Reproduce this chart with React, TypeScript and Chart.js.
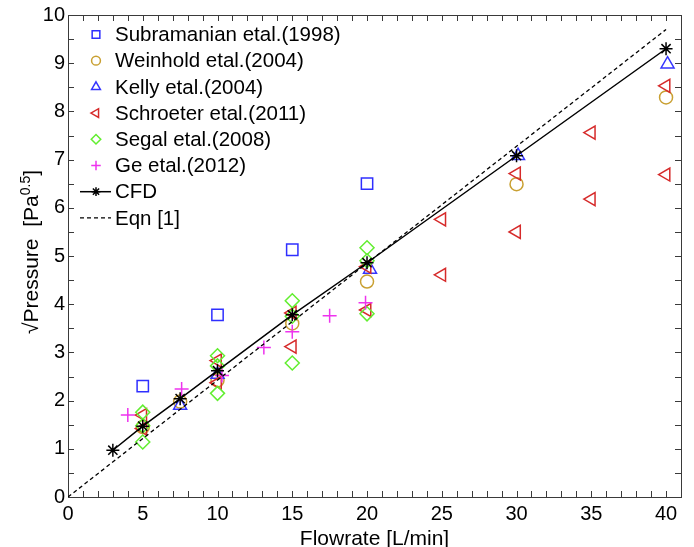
import React, { useEffect, useRef } from 'react';
import { Chart, registerables } from 'chart.js';
import { drawPoint } from 'chart.js/helpers';

Chart.register(...registerables);

const FONT = '"Liberation Sans", Arial, sans-serif';

const xMin = 0;
const xMax = 41;
const yMin = 0;
const yMax = 10;
const xTickValues = [0, 5, 10, 15, 20, 25, 30, 35, 40];
const yTickValues = [0, 1, 2, 3, 4, 5, 6, 7, 8, 9, 10];
const xMinorStep = 1;
const yMinorStep = 0.5;

const xTitle = 'Flowrate [L/min]';
const yTitleMain = '\u221APressure  [Pa';
const yTitleSup = '0.5';
const yTitleEnd = ']';

const subramanianX = [5, 10, 15, 20];
const subramanianY = [2.3, 3.78, 5.13, 6.5];

const weinholdX = [5, 7.5, 10, 15, 20, 30, 40];
const weinholdY = [1.45, 1.98, 2.42, 3.6, 4.47, 6.49, 8.29];

const kellyX = [7.5, 10, 20.2, 30.1, 40.1];
const kellyY = [1.9, 2.54, 4.72, 7.08, 8.98];

const schroeterX = [5, 5, 10, 10, 15, 15, 20, 20, 25, 25, 30, 30, 35, 35, 40, 40];
const schroeterY = [1.7, 1.42, 2.83, 2.37, 3.12, 3.82, 3.88, 4.78, 5.76, 4.61, 6.71, 5.5, 7.56, 6.18, 8.53, 6.69];

const segalX = [5, 5, 5, 10, 10, 10, 15, 15, 15, 20, 20, 20];
const segalY = [1.76, 1.48, 1.14, 2.93, 2.72, 2.15, 4.07, 3.75, 2.78, 5.17, 4.9, 3.8];

const geX = [4, 7.6, 10.3, 13.1, 15, 17.5, 19.9];
const geY = [1.7, 2.24, 2.52, 3.1, 3.43, 3.76, 4.03];

const cfdX = [3, 5, 7.5, 10, 15, 20, 30, 40];
const cfdY = [0.97, 1.47, 2.04, 2.62, 3.78, 4.86, 7.08, 9.3];

const eqnX = [0, 40];
const eqnY = [0, 9.7];

const labels = [
  'Subramanian etal.(1998)',
  'Weinhold etal.(2004)',
  'Kelly etal.(2004)',
  'Schroeter etal.(2011)',
  'Segal etal.(2008)',
  'Ge etal.(2012)',
  'CFD',
  'Eqn [1]',
];

const toPts = (xs: number[], ys: number[]) => xs.map((x, i) => ({ x, y: ys[i] }));

const framePlugin = {
  id: 'frame',
  beforeDatasetsDraw(chart: any) {
    const { ctx, chartArea, scales } = chart;
    const { left, right, top, bottom } = chartArea;
    const xs = scales.x;
    const ys = scales.y;
    const tl = 6;
    ctx.save();
    ctx.strokeStyle = '#3a3a3a';
    ctx.lineWidth = 1;
    ctx.beginPath();
    for (let v = xMin; v <= xTickValues[xTickValues.length - 1] + 1e-9; v += xMinorStep) {
      const px = Math.round(xs.getPixelForValue(v)) + 0.5;
      ctx.moveTo(px, bottom);
      ctx.lineTo(px, bottom - tl);
      ctx.moveTo(px, top);
      ctx.lineTo(px, top + tl);
    }
    for (let v = yMin; v <= yMax + 1e-9; v += yMinorStep) {
      const py = Math.round(ys.getPixelForValue(v)) + 0.5;
      ctx.moveTo(left, py);
      ctx.lineTo(left + tl, py);
      ctx.moveTo(right, py);
      ctx.lineTo(right - tl, py);
    }
    ctx.stroke();
    ctx.strokeRect(Math.round(left) + 0.5, Math.round(top) + 0.5, Math.round(right - left), Math.round(bottom - top));
    ctx.restore();
  },
  afterDraw(chart: any) {
    const { ctx, chartArea } = chart;
    ctx.save();
    ctx.fillStyle = '#000';
    // x title
    ctx.font = `21px ${FONT}`;
    ctx.textAlign = 'center';
    ctx.textBaseline = 'alphabetic';
    ctx.fillText(xTitle, (chartArea.left + chartArea.right) / 2, 545);
    // y title
    ctx.translate(30, 252);
    ctx.rotate(-Math.PI / 2);
    ctx.textAlign = 'left';
    ctx.font = `21px ${FONT}`;
    const w1 = ctx.measureText(yTitleMain).width;
    const w3 = ctx.measureText(yTitleEnd).width;
    ctx.font = `14px ${FONT}`;
    const w2 = ctx.measureText(yTitleSup).width;
    let x0 = -(w1 + w2 + w3) / 2;
    const base = 7.5;
    ctx.font = `21px ${FONT}`;
    ctx.fillText(yTitleMain, x0, base);
    x0 += w1;
    ctx.font = `14px ${FONT}`;
    ctx.fillText(yTitleSup, x0, base - 8);
    x0 += w2;
    ctx.font = `21px ${FONT}`;
    ctx.fillText(yTitleEnd, x0, base);
    ctx.restore();

    // legend
    const datasets = chart.data.datasets;
    ctx.save();
    const startY = 34.5;
    const step = 26.2;
    const markerX = 96;
    const textX = 115;
    ctx.font = `20.5px ${FONT}`;
    ctx.textBaseline = 'middle';
    ctx.textAlign = 'left';
    datasets.forEach((ds: any, i: number) => {
      const y = startY + i * step;
      if (ds.showLine) {
        ctx.save();
        ctx.strokeStyle = ds.borderColor;
        ctx.lineWidth = ds.borderWidth;
        ctx.setLineDash(ds.borderDash || []);
        ctx.beginPath();
        ctx.moveTo(80, y);
        ctx.lineTo(111, y);
        ctx.stroke();
        ctx.restore();
      }
      if (ds.pointRadius > 0) {
        ctx.save();
        ctx.strokeStyle = ds.pointBorderColor;
        ctx.fillStyle = 'rgba(0,0,0,0)';
        ctx.lineWidth = ds.pointBorderWidth;
        drawPoint(ctx, {
          pointStyle: ds.pointStyle,
          rotation: ds.pointRotation || 0,
          radius: ds.pointRadius * 0.68,
          borderWidth: ds.pointBorderWidth,
        } as any, markerX, y);
        ctx.restore();
      }
      ctx.fillStyle = '#000';
      ctx.fillText(ds.label, textX, y + 1);
    });
    ctx.restore();
  },
};

const marker = (label: string, xs: number[], ys: number[], color: string, style: string, radius: number, order: number, rotation = 0) => ({
  label,
  data: toPts(xs, ys),
  showLine: false,
  pointStyle: style,
  pointRotation: rotation,
  pointRadius: radius,
  pointBorderColor: color,
  pointBackgroundColor: 'rgba(0,0,0,0)',
  pointBorderWidth: 1.5,
  borderColor: color,
  order,
});

export default function App() {
  const ref = useRef<HTMLCanvasElement | null>(null);
  useEffect(() => {
    if (!ref.current) return;
    const chart = new Chart(ref.current, {
      type: 'scatter',
      data: {
        datasets: [
          marker(labels[0], subramanianX, subramanianY, '#2f2fff', 'rect', 8, 7),
          marker(labels[1], weinholdX, weinholdY, '#c9a032', 'circle', 6.5, 6),
          marker(labels[2], kellyX, kellyY, '#3434ff', 'triangle', 7.5, 5),
          marker(labels[3], schroeterX, schroeterY, '#d62a2a', 'triangle', 7.5, 4, -90),
          marker(labels[4], segalX, segalY, '#62ee30', 'rectRot', 7, 3),
          marker(labels[5], geX, geY, '#ee33ee', 'cross', 7, 2),
          {
            label: labels[6],
            data: toPts(cfdX, cfdY),
            showLine: true,
            borderColor: '#000',
            borderWidth: 1.5,
            pointStyle: 'star',
            pointRadius: 6.5,
            pointBorderColor: '#000',
            pointBackgroundColor: 'rgba(0,0,0,0)',
            pointBorderWidth: 1.5,
            order: 0,
          },
          {
            label: labels[7],
            data: toPts(eqnX, eqnY),
            showLine: true,
            borderColor: '#000',
            borderWidth: 1.3,
            borderDash: [4, 3],
            pointRadius: 0,
            order: 1,
          },
        ] as any,
      },
      options: {
        animation: false,
        responsive: false,
        maintainAspectRatio: false,
        layout: { padding: { top: 14, right: 13, left: 0, bottom: 0 } },
        plugins: { legend: { display: false }, tooltip: { enabled: false } },
        scales: {
          x: {
            type: 'linear',
            min: xMin,
            max: xMax,
            afterBuildTicks: (s: any) => {
              s.ticks = xTickValues.map((v) => ({ value: v }));
            },
            afterFit: (s: any) => {
              s.height = 50;
            },
            grid: { display: false, drawTicks: false },
            border: { display: false },
            ticks: { font: { family: FONT, size: 20 }, color: '#000', padding: 5, maxRotation: 0, autoSkip: false },
          },
          y: {
            type: 'linear',
            min: yMin,
            max: yMax,
            afterBuildTicks: (s: any) => {
              s.ticks = yTickValues.map((v) => ({ value: v }));
            },
            afterFit: (s: any) => {
              s.width = 68;
            },
            grid: { display: false, drawTicks: false },
            border: { display: false },
            ticks: { font: { family: FONT, size: 20 }, color: '#000', padding: 3, autoSkip: false },
          },
        },
      } as any,
      plugins: [framePlugin],
    });
    return () => chart.destroy();
  }, []);
  return (
    <div style={{ position: 'fixed', left: 0, top: 0, width: 694, height: 547, background: '#fff' }}>
      <canvas ref={ref} width={694} height={547} style={{ display: 'block' }} />
    </div>
  );
}
